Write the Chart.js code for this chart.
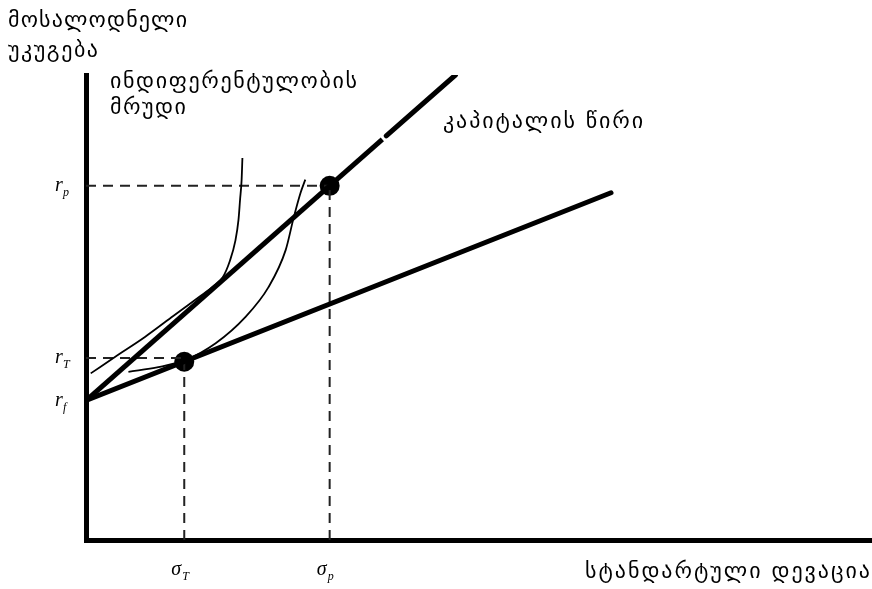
<!DOCTYPE html>
<html><head><meta charset="utf-8">
<script src="https://cdn.jsdelivr.net/npm/chart.js@4.4.0/dist/chart.umd.min.js"></script>
<style>html,body{margin:0;padding:0;background:#fff;}#wrap{width:872px;height:589px;}</style>
</head><body><div id="wrap"><canvas id="c" width="872" height="589"></canvas></div>
<script>
// ---- data (x = standard deviation, y = expected return) ----
const upperLineA_X = [0, 37.7];
const upperLineA_Y = [18, 51.7];
const upperLineB_X = [38.2, 47];
const upperLineB_Y = [52.15, 60];
const lowerLineX = [0, 66.8];
const lowerLineY = [18, 44.8];
const curve1X = [0.6, 4.1, 7.5, 11.1, 14.3, 16.3, 17.4, 18.3, 19.0, 19.4, 19.6, 19.8, 19.9];
const curve1Y = [21.5, 23.9, 26.2, 28.9, 31.3, 32.8, 33.9, 36.0, 38.6, 41.3, 43.9, 46.5, 49.3];
const curve2X = [5.4, 9.2, 12.6, 16.5, 20.3, 23.2, 25.4, 26.4, 27.3, 27.9];
const curve2Y = [21.7, 22.3, 23.2, 25.4, 28.8, 32.6, 37.4, 41.5, 44.8, 46.5];
const pointX = [12.5, 31];
const pointY = [23.0, 45.7];
const yTickValues = [45.7, 23.5, 18];
const yTickMain = ['r', 'r', 'r'];
const yTickSub = ['p', 'T', 'f'];
const xTickValues = [12.5, 31];
const xTickMain = ['σ', 'σ'];
const xTickSub = ['T', 'p'];
const yAxisTitle = ['მოსალოდნელი', 'უკუგება'];
const xAxisTitle = 'სტანდარტული დევაცია';
const curveLabel = ['ინდიფერენტულობის', 'მრუდი'];
const lineLabel = 'კაპიტალის წირი';

const zip = (xs, ys) => xs.map((x, i) => ({x, y: ys[i]}));
const dash = (pts) => ({data: pts, borderColor:'#222', borderWidth:2, borderDash:[10,7], showLine:true, pointRadius:0});
const ds = [
  {data: zip(upperLineA_X, upperLineA_Y), borderColor:'#000', borderWidth:5, showLine:true, pointRadius:0, borderCapStyle:'butt'},
  {data: zip(upperLineB_X, upperLineB_Y), borderColor:'#000', borderWidth:5, showLine:true, pointRadius:0, borderCapStyle:'round'},
  {data: zip(lowerLineX, lowerLineY), borderColor:'#000', borderWidth:5, showLine:true, pointRadius:0, borderCapStyle:'round'},
  {data: zip(curve1X, curve1Y), borderColor:'#000', borderWidth:1.8, showLine:true, pointRadius:0, cubicInterpolationMode:'monotone'},
  {data: zip(curve2X, curve2Y), borderColor:'#000', borderWidth:1.8, showLine:true, pointRadius:0, cubicInterpolationMode:'monotone'},
  dash([{x:0,y:yTickValues[0]},{x:pointX[1],y:yTickValues[0]}]),
  dash([{x:xTickValues[1],y:0},{x:xTickValues[1],y:pointY[1]}]),
  dash([{x:0,y:yTickValues[1]},{x:pointX[0],y:yTickValues[1]}]),
  dash([{x:xTickValues[0],y:0},{x:xTickValues[0],y:pointY[0]}]),
  {data: zip(pointX, pointY), showLine:false, pointRadius:10, pointBackgroundColor:'#000', pointBorderColor:'#000', pointBorderWidth:0}
];

function fitText(ctx, text, x, y, width, size, family) {
  ctx.font = size + 'px ' + family;
  ctx.letterSpacing = '0px';
  const w = ctx.measureText(text).width;
  const n = [...text].length;
  if (n > 1) ctx.letterSpacing = ((width - w) / (n - 1)).toFixed(2) + 'px';
  ctx.fillText(text, x, y);
  ctx.letterSpacing = '0px';
}

const textPlugin = {
  id: 'texts',
  afterDraw(chart) {
    const ctx = chart.ctx;
    const xs = chart.scales.x, ys = chart.scales.y;
    ctx.save();
    ctx.fillStyle = '#000';
    ctx.textAlign = 'left';
    ctx.textBaseline = 'middle';
    const fam = '"DejaVu Sans", sans-serif';
    fitText(ctx, yAxisTitle[0], 8, 21, 179, 22, fam);
    fitText(ctx, yAxisTitle[1], 8, 51, 90, 22, fam);
    fitText(ctx, curveLabel[0], 110, 82, 247, 22, fam);
    fitText(ctx, curveLabel[1], 110, 108, 76, 22, fam);
    fitText(ctx, lineLabel, 443, 122, 200, 22, fam);
    fitText(ctx, xAxisTitle, 585, 572, 285, 22, fam);
    // tick labels
    ctx.textBaseline = 'alphabetic';
    yTickValues.forEach((v, i) => {
      const py = ys.getPixelForValue(v);
      ctx.font = 'italic 20px "Liberation Serif", serif';
      ctx.fillText(yTickMain[i], 55, py + 5);
      ctx.font = 'italic 12px "Liberation Serif", serif';
      ctx.fillText(yTickSub[i], 63, py + 10);
    });
    xTickValues.forEach((v, i) => {
      const px = xs.getPixelForValue(v);
      ctx.font = 'italic 20px "Liberation Serif", serif';
      ctx.fillText(xTickMain[i], px - 13, 575);
      ctx.font = 'italic 12px "Liberation Serif", serif';
      ctx.fillText(xTickSub[i], px - 2, 580);
    });
    ctx.restore();
  }
};

new Chart(document.getElementById('c'), {
  type: 'scatter',
  data: {datasets: ds},
  options: {
    responsive: false,
    animation: false,
    devicePixelRatio: 1,
    layout: {autoPadding: false, padding: {left: 86, top: 75, right: 0, bottom: 49}},
    plugins: {legend: {display: false}, tooltip: {enabled: false}},
    scales: {
      x: {type:'linear', min:0, max:100, ticks:{display:false}, grid:{display:false, drawTicks:false}, border:{display:true, color:'#000', width:5}},
      y: {type:'linear', min:0, max:60, ticks:{display:false}, grid:{display:false, drawTicks:false}, border:{display:true, color:'#000', width:5}}
    }
  },
  plugins: [textPlugin]
});
</script></body></html>
